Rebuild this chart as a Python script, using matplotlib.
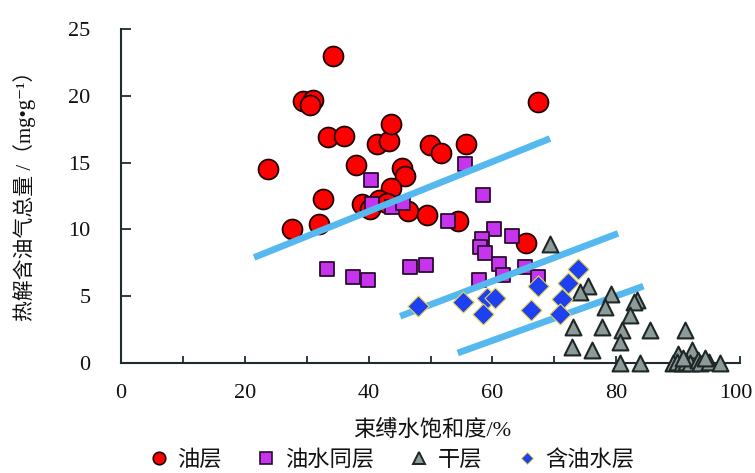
import matplotlib
matplotlib.use("Agg")
import matplotlib.pyplot as plt
import matplotlib.transforms as mtransforms
from matplotlib.lines import Line2D
from matplotlib.font_manager import FontProperties

# ---------------- data ----------------
oil_x = [23.8, 27.6, 29.4, 31.0, 30.5, 34.2, 33.4, 36.0, 41.4, 43.3, 43.6, 49.9, 51.7, 55.7,
         67.4, 38.0, 45.4, 45.9, 32.6, 32.0, 38.9, 43.6, 41.7, 43.0, 46.3, 49.4, 54.4, 65.4, 40.2]
oil_y = [14.5, 10.0, 19.6, 19.7, 19.3, 23.0, 16.9, 17.0, 16.4, 16.6, 17.9, 16.3, 15.7, 16.4,
         19.5, 14.8, 14.6, 14.0, 12.3, 10.4, 11.9, 13.1, 12.2, 12.0, 11.4, 11.1, 10.6, 9.0, 11.5]

oilwater_x = [40.4, 55.6, 58.5, 40.6, 43.7, 45.6, 52.8, 60.2, 63.2, 58.4, 58.0, 58.8, 61.1,
              65.2, 57.8, 61.7, 67.3, 33.3, 37.5, 39.9, 46.7, 49.3]
oilwater_y = [13.7, 14.9, 12.6, 11.9, 11.7, 12.0, 10.6, 10.0, 9.5, 9.3, 8.7, 8.2, 7.4,
              7.2, 6.2, 6.6, 6.4, 7.0, 6.4, 6.2, 7.2, 7.3]

dry_x = [69.3, 75.5, 74.2, 79.2, 83.4, 82.8, 78.2, 82.2, 73.0, 77.7, 80.9, 85.5, 91.1, 80.6,
         72.9, 76.1, 80.6, 83.8, 90.0, 92.2, 89.2, 89.9, 90.6, 91.3, 92.0, 93.2, 93.6, 95.0,
         90.8, 94.3, 96.8]
dry_y = [8.9, 5.8, 5.3, 5.2, 4.7, 4.6, 4.2, 3.6, 2.7, 2.7, 2.5, 2.5, 2.5, 1.6,
         1.2, 1.0, 0.0, 0.0, 0.7, 1.0, 0.0, 0.1, 0.0, 0.1, 0.0, 0.2, 0.0, 0.1,
         0.4, 0.4, 0.0]

wet_x = [48.0, 55.3, 59.1, 60.4, 58.5, 66.2, 67.4, 71.2, 72.2, 73.8, 71.0]
wet_y = [4.3, 4.6, 4.9, 4.9, 3.7, 4.0, 5.8, 4.8, 6.0, 7.0, 3.7]

trend_x = [[21.5, 69.3], [45.1, 80.3], [54.4, 84.4]]
trend_y = [[7.9, 16.8], [3.5, 9.7], [0.75, 5.75]]

labels = ["油层", "油水同层", "干层", "含油水层"]
xticks = [0, 20, 40, 60, 80, 100]
yticks = [0, 5, 10, 15, 20, 25]

# ---------------- style ----------------
CJK = ["Noto Sans CJK SC", "DejaVu Sans"]
SERIF_CJK = ["Liberation Serif", "Noto Sans CJK SC", "DejaVu Sans"]
SERIF = "Liberation Serif"
c_oil, c_ow, c_dry, c_wet = "#FF0000", "#C634EE", "#8C9A9A", "#1E40F0"
c_line = "#55B8EE"
c_axis = "#1E2C30"

W, H = 755, 473
fig = plt.figure(figsize=(W / 100, H / 100), dpi=100)
ax = fig.add_axes([121 / W, 110 / H, 619 / W, 334 / H])

ax.scatter(oil_x, oil_y, s=205, marker="o", facecolor=c_oil, edgecolor="#200000",
           linewidth=1.3, zorder=2, clip_on=False)
ax.scatter(oilwater_x, oilwater_y, s=110, marker="s", facecolor=c_ow, edgecolor="#2A0C30",
           linewidth=1.3, zorder=3, clip_on=False)
for tx, ty in zip(trend_x, trend_y):
    ax.plot(tx, ty, color=c_line, linewidth=4.8, solid_capstyle="butt", zorder=4)
ax.scatter(dry_x, dry_y, s=130, marker="^", facecolor=c_dry, edgecolor="#1E2626",
           linewidth=1.5, zorder=5, clip_on=False)
ax.scatter(wet_x, wet_y, s=115, marker="D", facecolor=c_wet, edgecolor="#E8D84A",
           linewidth=0.8, zorder=6, clip_on=False)

ax.set_xlim(0, 100)
ax.set_ylim(0, 25)
ax.set_xticks(xticks)
ax.set_xticks([10, 30, 50, 70, 90], minor=True)
ax.set_yticks(yticks)
for s in ("top", "right"):
    ax.spines[s].set_visible(False)
for s in ("left", "bottom"):
    ax.spines[s].set_color(c_axis)
    ax.spines[s].set_linewidth(1.5)
ax.tick_params(axis="x", which="both", direction="in", length=5, width=1.3, color=c_axis,
               pad=15, labelsize=16)
ax.tick_params(axis="y", direction="in", length=7, width=1.3, color=c_axis,
               pad=22, labelsize=16)
for lab in ax.get_xticklabels() + ax.get_yticklabels():
    lab.set_fontfamily(SERIF)
    lab.set_color("#111111")
# keep the last x tick label ("100") inside the canvas
last = ax.get_xticklabels()[-1]
last.set_transform(last.get_transform() +
                   mtransforms.ScaledTranslation(-4 / 100, 0, fig.dpi_scale_trans))

fig.text(432 / W, 1 - 430 / H, "束缚水饱和度/%", ha="center", va="center",
         fontsize=16, family=SERIF_CJK, color="#111111")
fig.text(25 / W, 1 - 191 / H, "热解含油气总量 /（mg•g⁻¹）", ha="center", va="center",
         rotation=90, fontsize=15, family=SERIF_CJK, color="#111111")

handles = [
    Line2D([], [], linestyle="none", marker="o", markersize=9, markerfacecolor=c_oil,
           markeredgecolor="#200000", markeredgewidth=1.2),
    Line2D([], [], linestyle="none", marker="s", markersize=8.5, markerfacecolor=c_ow,
           markeredgecolor="#2A0C30", markeredgewidth=1.2),
    Line2D([], [], linestyle="none", marker="^", markersize=9, markerfacecolor=c_dry,
           markeredgecolor="#1E2626", markeredgewidth=1.4),
    Line2D([], [], linestyle="none", marker="D", markersize=6.5, markerfacecolor=c_wet,
           markeredgecolor="#E8D84A", markeredgewidth=0.7),
]
fig.legend(handles, labels, loc="center", bbox_to_anchor=(392 / W, 1 - 459 / H), ncol=4,
           frameon=False, prop=FontProperties(family=CJK, size=16),
           handlelength=0.8, handletextpad=0.45, columnspacing=1.6, borderpad=0,
           labelcolor="#111111")

fig.savefig("out.png", dpi=100)
